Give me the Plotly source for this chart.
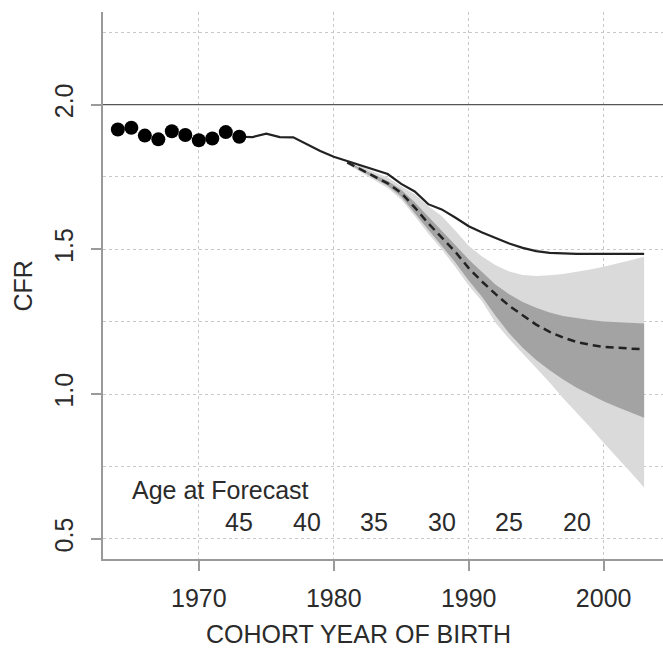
import plotly.graph_objects as go

# Completed cohorts (observed CFR)
obs_years = [1964, 1965, 1966, 1967, 1968, 1969, 1970, 1971, 1972, 1973]
obs_cfr = [1.914, 1.920, 1.893, 1.880, 1.908, 1.895, 1.877, 1.883, 1.905, 1.889]

# Frozen-rates trajectory
solid_years = list(range(1973, 2004))
solid_cfr = [1.889, 1.888, 1.900, 1.888, 1.887, 1.863, 1.840, 1.820, 1.805, 1.789,
             1.773, 1.760, 1.726, 1.700, 1.656, 1.638, 1.610, 1.580, 1.558, 1.538,
             1.520, 1.505, 1.494, 1.488, 1.485, 1.484, 1.484, 1.484, 1.484, 1.484,
             1.484]

# Forecast median and prediction intervals
fc_years = list(range(1981, 2004))
fc_median = [1.800, 1.776, 1.752, 1.728, 1.695, 1.645, 1.590, 1.540, 1.492, 1.435,
             1.388, 1.345, 1.305, 1.272, 1.240, 1.215, 1.195, 1.180, 1.170, 1.163,
             1.159, 1.157, 1.155]
inner_hi = [1.802, 1.780, 1.758, 1.736, 1.706, 1.663, 1.613, 1.565, 1.515, 1.465,
            1.420, 1.378, 1.345, 1.318, 1.298, 1.282, 1.270, 1.262, 1.256, 1.251,
            1.248, 1.246, 1.244]
inner_lo = [1.798, 1.772, 1.746, 1.720, 1.682, 1.625, 1.565, 1.512, 1.455, 1.392,
            1.335, 1.270, 1.210, 1.160, 1.118, 1.082, 1.050, 1.022, 0.998, 0.975,
            0.955, 0.936, 0.918]
outer_hi = [1.806, 1.788, 1.766, 1.748, 1.718, 1.690, 1.650, 1.615, 1.565, 1.512,
            1.475, 1.445, 1.423, 1.411, 1.408, 1.410, 1.415, 1.422, 1.430, 1.440,
            1.450, 1.462, 1.474]
outer_lo = [1.794, 1.766, 1.740, 1.712, 1.672, 1.615, 1.555, 1.500, 1.440, 1.375,
            1.320, 1.245, 1.190, 1.140, 1.090, 1.040, 0.985, 0.935, 0.885, 0.832,
            0.780, 0.730, 0.677]

# Age of the cohort at the time of forecast
age_labels = ["45", "40", "35", "30", "25", "20"]
age_cohorts = [1973, 1978, 1983, 1988, 1993, 1998]

x_ticks = [1970, 1980, 1990, 2000]
y_ticks = [0.5, 1.0, 1.5, 2.0]
y_ticktext = ["0.5", "1.0", "1.5", "2.0"]
replacement = 2.0

FONT = "Liberation Sans, Arial, Helvetica, sans-serif"
TXT = "#2b2b2b"
AXC = "#9a9a9a"
GRID = "#c9c9c9"

fig = go.Figure()

# outer interval
fig.add_trace(go.Scatter(
    x=fc_years + fc_years[::-1], y=outer_hi + outer_lo[::-1],
    fill="toself", fillcolor="#dadada", line=dict(width=0),
    mode="lines", hoverinfo="skip", showlegend=False))
# inner interval
fig.add_trace(go.Scatter(
    x=fc_years + fc_years[::-1], y=inner_hi + inner_lo[::-1],
    fill="toself", fillcolor="#a3a3a3", line=dict(width=0),
    mode="lines", hoverinfo="skip", showlegend=False))
# median forecast
fig.add_trace(go.Scatter(
    x=fc_years, y=fc_median, mode="lines",
    line=dict(color="#222222", width=2.5, dash="8px,5px"), showlegend=False))
# frozen-rates line
fig.add_trace(go.Scatter(
    x=solid_years, y=solid_cfr, mode="lines",
    line=dict(color="#222222", width=2.2), showlegend=False))
# completed cohorts
fig.add_trace(go.Scatter(
    x=obs_years, y=obs_cfr, mode="markers",
    marker=dict(color="#000000", size=14), showlegend=False))

fig.add_hline(y=replacement, line=dict(color="#555555", width=1.3), layer="above")

# ages at forecast
fig.add_annotation(x=1971.6, y=0.668, xref="x", yref="y", text="Age at Forecast",
                   showarrow=False, font=dict(family=FONT, size=25, color=TXT))
for lab, cx in zip(age_labels, age_cohorts):
    fig.add_annotation(x=cx, y=0.558, xref="x", yref="y", text=lab,
                       showarrow=False, font=dict(family=FONT, size=25, color=TXT))

# axis titles
fig.add_annotation(x=0.4554, y=-0.1365, xref="paper", yref="paper",
                   text="COHORT YEAR OF BIRTH", showarrow=False,
                   xanchor="center", yanchor="middle",
                   font=dict(family=FONT, size=25, color=TXT))
fig.add_annotation(x=-0.1429, y=0.5, xref="paper", yref="paper",
                   text="CFR", showarrow=False, textangle=-90,
                   xanchor="center", yanchor="middle",
                   font=dict(family=FONT, size=25, color=TXT))

fig.update_xaxes(
    range=[1962.9, 2004.4], tickvals=x_ticks, ticks="outside", ticklen=10,
    tickwidth=1.5, tickcolor=AXC, showline=True, linecolor=AXC, linewidth=2,
    showgrid=True, gridcolor=GRID, griddash="dot", gridwidth=1,
    zeroline=False, ticklabelstandoff=6,
    tickfont=dict(family=FONT, size=25, color=TXT))
fig.update_yaxes(
    range=[0.43, 2.32], tickvals=y_ticks, ticktext=y_ticktext, tickangle=-90,
    ticks="outside", ticklen=10, tickwidth=1.5, tickcolor=AXC,
    showline=True, linecolor=AXC, linewidth=2,
    showgrid=True, gridcolor=GRID, griddash="dot", gridwidth=1,
    minor=dict(dtick=0.25, tick0=0.5, showgrid=True, gridcolor=GRID,
               griddash="dot", gridwidth=1, ticks=""),
    zeroline=False, ticklabelstandoff=8,
    tickfont=dict(family=FONT, size=25, color=TXT))

fig.update_layout(
    width=663, height=648,
    margin=dict(l=103, r=0, t=12, b=89),
    plot_bgcolor="white", paper_bgcolor="white",
    showlegend=False)

fig.write_html("out.html")
